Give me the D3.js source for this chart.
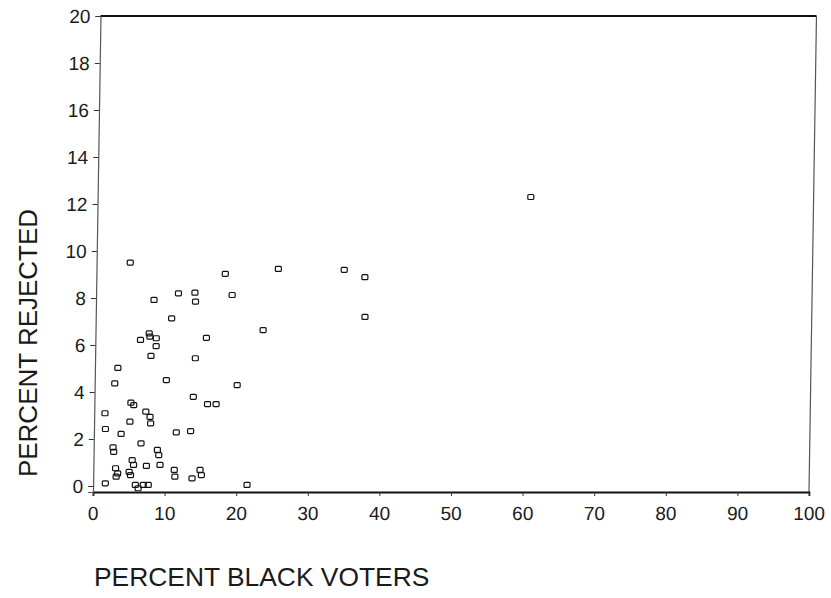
<!DOCTYPE html>
<html>
<head>
<meta charset="utf-8">
<script src="https://cdnjs.cloudflare.com/ajax/libs/d3/7.8.5/d3.min.js"></script>
<style>
  body { margin: 0; background: #fff; }
  .tick text { font-family: "Liberation Sans", Arial, sans-serif; font-size: 19px; fill: #1a1a1a; }
  .axisText { font-family: "Liberation Sans", Arial, sans-serif; font-size: 26px; fill: #1a1a1a; }
</style>
</head>
<body>
<div id="scatter"></div>
<script>
// percent black voters (x) and percent rejected (y)
var blackPct = [60.5, 25.4, 34.6, 37.5, 37.6, 23.4, 21.5, 19.9, 4.7, 18.0, 19.0, 11.5, 13.8, 13.9,
  8.1, 10.6, 15.5, 6.3, 7.5, 7.6, 8.5, 8.5, 7.8, 14.0, 3.2, 2.8, 10.0, 13.8, 15.8, 17.0,
  5.1, 5.5, 1.5, 7.2, 7.8, 7.9, 5.0, 1.6, 3.8, 11.5, 13.5, 6.6, 2.7, 2.8, 8.9, 9.1,
  5.4, 5.6, 7.4, 9.3, 3.1, 3.4, 3.2, 5.0, 5.2, 11.3, 11.4, 14.9, 15.1, 13.8, 1.7, 5.9,
  7.0, 7.7, 6.3];
var rejectedPct = [12.3, 9.24, 9.2, 8.89, 7.2, 6.64, 0.05, 4.3, 9.51, 9.03, 8.13, 8.2, 8.23, 7.85,
  7.92, 7.14, 6.31, 6.22, 6.5, 6.36, 6.29, 5.96, 5.54, 5.44, 5.03, 4.37, 4.51, 3.8, 3.49, 3.49,
  3.55, 3.45, 3.1, 3.17, 2.95, 2.67, 2.74, 2.43, 2.22, 2.29, 2.34, 1.82, 1.65, 1.46, 1.54, 1.32,
  1.11, 0.9, 0.86, 0.9, 0.76, 0.54, 0.4, 0.61, 0.47, 0.69, 0.4, 0.69, 0.47, 0.33, 0.12, 0.05,
  0.05, 0.05, -0.09];
var xTicks = [0, 10, 20, 30, 40, 50, 60, 70, 80, 90, 100];
var yTicks = [0, 2, 4, 6, 8, 10, 12, 14, 16, 18, 20];

var svgWidth = 831;
var svgHeight = 598;

var margin = {
  top: 16,
  right: 22,
  bottom: 106,
  left: 93
};

var width = svgWidth - margin.left - margin.right;
var height = svgHeight - margin.top - margin.bottom;

var svg = d3.select("#scatter")
  .append("svg")
  .attr("width", svgWidth)
  .attr("height", svgHeight);

// the scan is slightly sheared, so lean the plot a little
var chartGroup = svg.append("g")
  .attr("transform", `translate(${margin.left}, ${margin.top}) translate(0, ${height}) skewX(-0.9) translate(0, ${-height})`);

var pts = blackPct.map((d, i) => ({ x: d, y: rejectedPct[i] }));

var xLinearScale = d3.scaleLinear()
  .domain([0, 100])
  .range([0, width]);

var yLinearScale = d3.scaleLinear()
  .domain([-0.25, 20])
  .range([height, 0]);

var bottomAxis = d3.axisBottom(xLinearScale).tickValues(xTicks).tickSize(4).tickPadding(11);
var leftAxis = d3.axisLeft(yLinearScale).tickValues(yTicks).tickSize(5).tickPadding(5);

// frame: top and right edges
chartGroup.append("line")
  .attr("x1", 0).attr("x2", width).attr("y1", 0).attr("y2", 0)
  .attr("stroke", "#111").attr("stroke-width", 1.8);
chartGroup.append("line")
  .attr("x1", width).attr("x2", width).attr("y1", 0).attr("y2", height)
  .attr("stroke", "#555").attr("stroke-width", 1.2);

var gx = chartGroup.append("g")
  .attr("transform", `translate(0, ${height})`)
  .call(bottomAxis);
gx.select(".domain").attr("stroke", "#111").attr("stroke-width", 1.8);
gx.selectAll(".tick line").attr("stroke", "#333");

var gy = chartGroup.append("g")
  .call(leftAxis);
gy.select(".domain").attr("stroke", "#555").attr("stroke-width", 1.2);
gy.selectAll(".tick line").attr("stroke", "#333");

chartGroup.selectAll("rect.pt")
  .data(pts)
  .enter()
  .append("rect")
  .attr("class", "pt")
  .attr("x", d => xLinearScale(d.x) - 3)
  .attr("y", d => yLinearScale(d.y) - 2.5)
  .attr("width", 6)
  .attr("height", 5)
  .attr("rx", 1)
  .attr("fill", "none")
  .attr("stroke", "#111")
  .attr("stroke-width", 1.2);

// axis titles
svg.append("text")
  .attr("class", "axisText")
  .attr("transform", "translate(37, 343) rotate(-90)")
  .attr("text-anchor", "middle")
  .text("PERCENT REJECTED");

svg.append("text")
  .attr("class", "axisText")
  .attr("x", 94)
  .attr("y", 586)
  .style("font-size", "26.4px")
  .text("PERCENT BLACK VOTERS");
</script>
</body>
</html>
